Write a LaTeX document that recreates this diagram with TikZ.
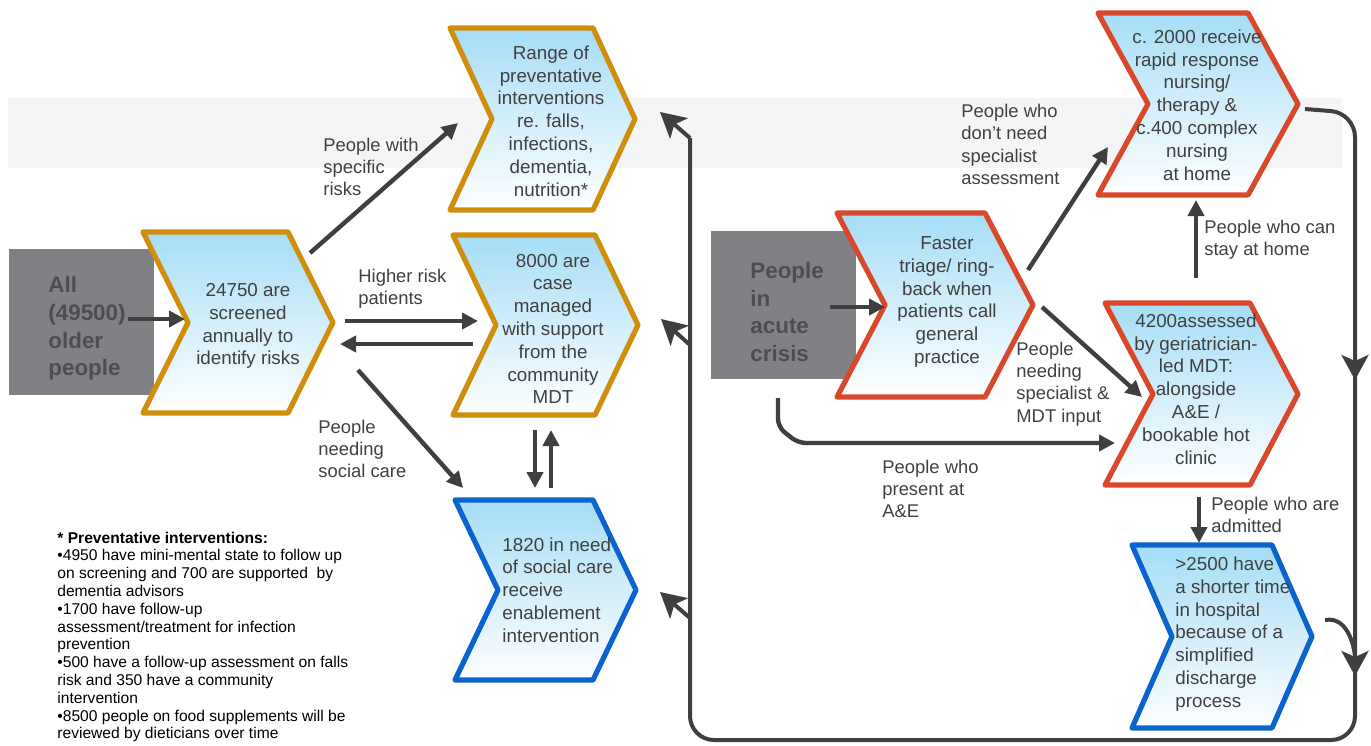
\documentclass[tikz,border=0pt]{standalone}
\usepackage{fontspec}
\setmainfont{Liberation Sans}
\usetikzlibrary{arrows.meta}
\definecolor{gold}{HTML}{CF8E0B}
\definecolor{redc}{HTML}{D9482B}
\definecolor{bluec}{HTML}{0B63CE}
\definecolor{boxgray}{HTML}{808185}
\definecolor{boxtxt}{HTML}{4E4E50}
\definecolor{arrc}{HTML}{3F3F3F}
\definecolor{txtc}{HTML}{404040}
\definecolor{bandc}{HTML}{F4F5F7}
\definecolor{skyc}{HTML}{A5DDF6}
\newcommand\chev[7]{%
  \path[chevbox, draw=#7] (#2,#3) -- (#2+#4-#6,#3) -- (#2+#4,#3+#5/2) -- (#2+#4-#6,#3+#5) -- (#2,#3+#5) -- (#2+#6,#3+#5/2) -- cycle;
  \coordinate (#1) at (#2+#4/2,#3+#5/2);
}
\begin{document}
\begin{tikzpicture}[x=0.5pt,y=-0.5pt,
  chevbox/.style={line width=2.6pt, line join=round, top color=skyc, bottom color=white},
  ctext/.style={text=txtc, align=center, inner sep=0pt, font=\fontsize{9.4}{11.4}\selectfont},
  ltext/.style={text=txtc, align=left, anchor=west, inner sep=0pt, font=\fontsize{9.2}{11.2}\selectfont},
  boxtext/.style={text=boxtxt, align=left, anchor=west, inner sep=0pt, font=\bfseries\fontsize{11.2}{13.8}\selectfont},
  graybox/.style={fill=boxgray, inner sep=0pt},
  arr/.style={draw=arrc, line width=2.2pt, -{Triangle[length=8pt,width=8pt]}},
  loopline/.style={draw=arrc, line width=2pt},
  bigarr/.style={draw=arrc, line width=2pt, -{Stealth[length=12.5pt,width=13.5pt,inset=3pt]}}
]
\useasboundingbox (0,0) rectangle (1371,745);
\fill[bandc] (8,98) rectangle (1342,168);

% gray boxes
\node[graybox, minimum width=72.5pt, minimum height=73pt] (allbox) at (81.5,322) {};
\node[graybox, minimum width=72.5pt, minimum height=74pt] (acute) at (783.5,305) {};

% chevrons
\chev{c1}{143}{232}{190}{181}{45}{gold}
\chev{c2}{450}{28}{185}{182}{42}{gold}
\chev{c3}{453}{235}{185}{180}{43}{gold}
\chev{c4}{455}{500}{181}{180}{43}{bluec}
\chev{c5}{837}{213}{196}{184}{48}{redc}
\chev{c6}{1098}{13}{200}{182}{50}{redc}
\chev{c7}{1105}{303}{193}{182}{48}{redc}
\chev{c8}{1132}{545}{180}{183}{40}{bluec}

% box texts
\node[boxtext] (allt) at (48,328.5) {All\\(49500)\\older\\people};
\node[boxtext] (acutet) at (750,312) {People\\in\\acute\\crisis};

% chevron texts
\node[ctext] (t1) at (248,326) {24750 are\\screened\\annually to\\identify risks};
\node[ctext] (t2) at (551,121) {Range of\\preventative\\interventions\\re. falls,\\infections,\\dementia,\\nutrition*};
\node[ctext] (t3) at (553,329) {8000 are\\case\\managed\\with support\\from the\\community\\MDT};
\node[ctext, align=left, anchor=west] (t4) at (502,590) {1820 in need\\of social care\\receive\\enablement\\intervention};
\node[ctext] (t5) at (947,302) {Faster\\triage/ ring-\\back when\\patients call\\general\\practice};
\node[ctext] (t6) at (1197,105) {c. 2000 receive\\rapid response\\nursing/\\therapy \&\\c.400 complex\\nursing\\at home};
\node[ctext] (t7) at (1196,389) {4200assessed\\by geriatrician-\\led MDT:\\alongside\\A\&E /\\bookable hot\\clinic};
\node[ctext, align=left, anchor=west] (t8) at (1175,634) {>2500 have\\a shorter time\\in hospital\\because of a\\simplified\\discharge\\process};

% labels
\node[ltext] (l1) at (323,167) {People with\\specific\\risks};
\node[ltext] (l2) at (358,288.5) {Higher risk\\patients};
\node[ltext] (l3) at (318,449) {People\\needing\\social care};
\node[ltext] (l4) at (961,144.5) {People who\\don’t need\\specialist\\assessment};
\node[ltext] (l5) at (1016,384) {People\\needing\\specialist \&\\MDT input};
\node[ltext] (l6) at (882,489) {People who\\present at\\A\&E};
\node[ltext] (l7) at (1204,239.5) {People who can\\stay at home};
\node[ltext] (l8) at (1211,515) {People who are\\admitted};

% footnote
\node[text=black, align=left, anchor=west, inner sep=0pt, font=\fontsize{7.8}{8.9}\selectfont] (foot) at (57,637) {\textbf{* Preventative interventions:}\\
•4950 have mini-mental state to follow up\\
on screening and 700 are supported\ \ by\\
dementia advisors\\
•1700 have follow-up\\
assessment/treatment for infection\\
prevention\\
•500 have a follow-up assessment on falls\\
risk and 350 have a community\\
intervention\\
•8500 people on food supplements will be\\
reviewed by dieticians over time};

% arrow end points
\coordinate (a1s) at (128,319); \coordinate (a1e) at (185,319);
\coordinate (a2s) at (310,253); \coordinate (a2e) at (458,123);
\coordinate (a3s) at (345,321); \coordinate (a3e) at (478,321);
\coordinate (a4s) at (473,344); \coordinate (a4e) at (340,344);
\coordinate (a5s) at (358,370); \coordinate (a5e) at (463,488);
\coordinate (a6s) at (535,430); \coordinate (a6e) at (535,488);
\coordinate (a7s) at (551,488); \coordinate (a7e) at (551,430);
\coordinate (a8s) at (830,307); \coordinate (a8e) at (885,307);
\coordinate (a9s) at (1028,270); \coordinate (a9e) at (1108,147);
\coordinate (a10s) at (1042,307); \coordinate (a10e) at (1142,397);
\coordinate (a11s) at (778,398); \coordinate (a11e) at (1115,443);
\coordinate (a12s) at (1196,278); \coordinate (a12e) at (1196,200);
\coordinate (a13s) at (1199,497); \coordinate (a13e) at (1199,543);

\draw[arr] (a1s) -- (a1e);
\draw[arr] (a2s) -- (a2e);
\draw[arr] (a3s) -- (a3e);
\draw[arr] (a4s) -- (a4e);
\draw[arr] (a5s) -- (a5e);
\draw[arr] (a6s) -- (a6e);
\draw[arr] (a7s) -- (a7e);
\draw[arr] (a8s) -- (a8e);
\draw[arr] (a9s) -- (a9e);
\draw[arr] (a10s) -- (a10e);
\draw[arr, rounded corners=4pt] (a11s) -- (778,427) -- (798,443) -- (a11e);
\draw[arr] (a12s) -- (a12e);
\draw[arr] (a13s) -- (a13e);

% return loop
\coordinate (c6out) at (1305,109);
\coordinate (ltop) at (690,138);
\coordinate (c8out) at (1325,620);
\draw[loopline, rounded corners=12pt] (c6out) -- (1355,113) -- (1355,740) -- (690,740) -- (ltop);
\coordinate (d1s) at (1355,340); \coordinate (d1e) at (1355,380);
\draw[bigarr] (d1s) -- (d1e);
\draw[bigarr] (c8out) to[out=10,in=90] (1355,676);
\coordinate (r1) at (660,112); \coordinate (r2) at (661,319); \coordinate (r3) at (660,592);
\draw[bigarr] (ltop) -- (r1);
\draw[bigarr] (690,345) -- (r2);
\draw[bigarr] (690,618) -- (r3);
\end{tikzpicture}
\end{document}
